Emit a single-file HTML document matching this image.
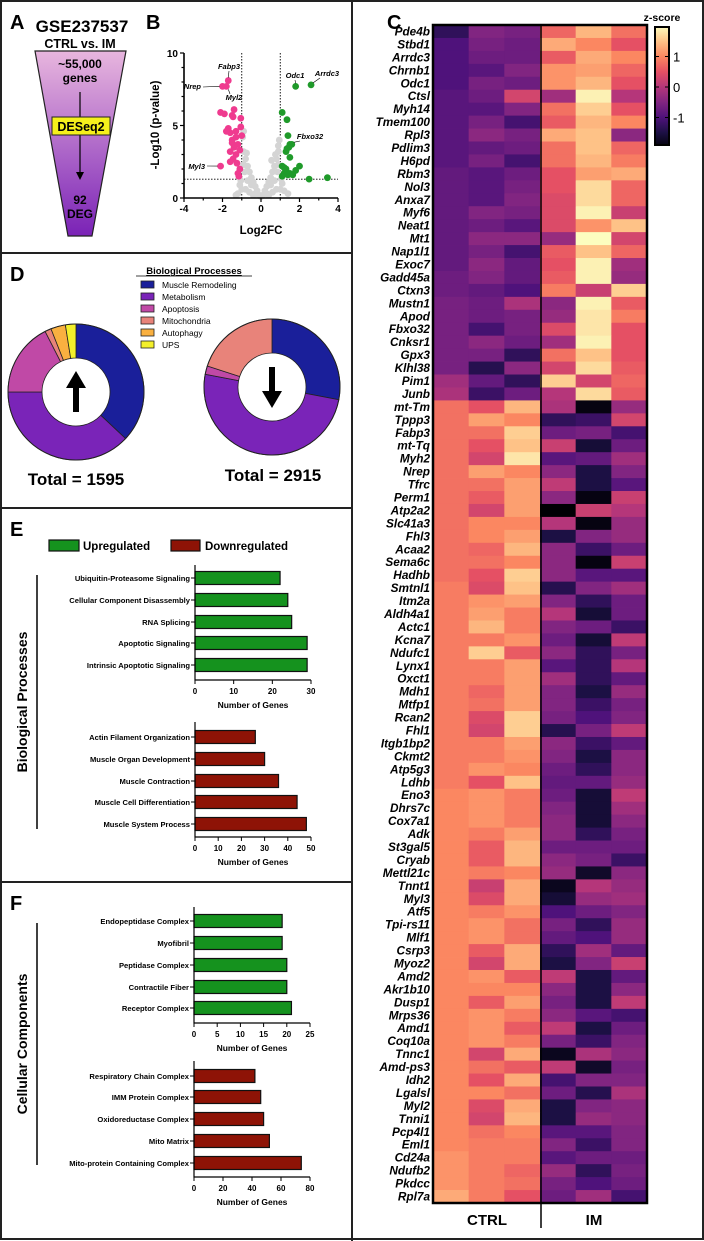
<!DOCTYPE html>
<html><head><meta charset="utf-8">
<style>
html,body{margin:0;padding:0;background:#fff;}
svg{display:block;font-family:"Liberation Sans",Arial,sans-serif;}
</style></head>
<body>
<svg id="fig" width="704" height="1241" viewBox="0 0 704 1241" xmlns="http://www.w3.org/2000/svg">
<defs>
<linearGradient id="funnelGrad" x1="0" y1="0" x2="0" y2="1">
<stop offset="0" stop-color="#e8b6de"/><stop offset="1" stop-color="#7a22b6"/>
</linearGradient>
</defs>
<rect x="0" y="0" width="704" height="1241" fill="#fff"/>
<g id="frame" stroke="#222" stroke-width="2" fill="none">
<rect x="1" y="1" width="702" height="1238"/>
<line x1="352" y1="0" x2="352" y2="1241"/>
<line x1="0" y1="253" x2="352" y2="253"/>
<line x1="0" y1="508" x2="352" y2="508"/>
<line x1="0" y1="882" x2="352" y2="882"/>
</g>
<g font-weight="bold" font-size="20" fill="#000">
<text x="10" y="29">A</text>
<text x="146" y="29">B</text>
<text x="387" y="29">C</text>
<text x="10" y="281">D</text>
<text x="10" y="536">E</text>
<text x="10" y="910">F</text>
</g>
<!-- Panel A -->
<g>
<text x="82" y="32" font-size="17" font-weight="bold" text-anchor="middle">GSE237537</text>
<text x="80" y="48" font-size="12.5" font-weight="bold" text-anchor="middle">CTRL vs. IM</text>
<polygon points="35,51 126,51 92,236 68,236" fill="url(#funnelGrad)" stroke="#222" stroke-width="1.2"/>
<text x="80" y="68" font-size="12" font-weight="bold" text-anchor="middle">~55,000</text>
<text x="80" y="82" font-size="12" font-weight="bold" text-anchor="middle">genes</text>
<line x1="80" y1="92" x2="80" y2="174" stroke="#000" stroke-width="1.2"/>
<polygon points="76,172 84,172 80,180" fill="#000"/>
<rect x="52" y="117" width="58" height="18" fill="#f5f01c" stroke="#222" stroke-width="1"/>
<text x="81" y="131" font-size="12.5" font-weight="bold" text-anchor="middle">DESeq2</text>
<text x="80" y="204" font-size="12" font-weight="bold" text-anchor="middle">92</text>
<text x="80" y="218" font-size="12" font-weight="bold" text-anchor="middle">DEG</text>
</g>
<g id="volcano"></g>
<g id="donuts"></g>
<g id="bars"></g>
<g id="heatmap"></g>
</svg>
<script>
// ---------- Volcano data ----------
const pinkX = [-1.7,-2.0,-1.8,-2.1,-1.9,-1.4,-1.5,-1.45,-1.05,-1.7,-1.6,-1.8,-1.05,-1.3,-1.5,-1.2,-1.4,-1.6,-1.3,-1.1,-1.45,-1.25,-1.1,-1.2,-1.6,-2.1,-1.15,-1.3,-1.0,-1.5];
const pinkY = [8.1,7.7,7.7,5.9,5.8,6.1,5.7,5.6,5.5,4.8,4.5,4.6,4.9,4.2,4.0,3.7,3.5,3.2,3.0,3.3,2.7,2.4,2.0,1.7,2.5,2.2,1.5,4.6,4.3,3.8];
const greenX = [1.8,2.6,1.1,1.35,1.4,1.5,1.6,1.35,1.45,1.3,1.5,1.1,1.2,1.3,2.0,1.8,1.5,1.2,1.4,2.5,3.45,1.1,1.65];
const greenY = [7.7,7.8,5.9,5.4,4.3,3.7,3.7,3.4,3.5,3.2,2.8,2.2,2.1,2.0,2.2,1.9,1.7,1.7,1.6,1.3,1.4,1.5,1.6];
const greyX = [0,0.1,-0.1,0.2,-0.2,0.3,-0.3,0.4,-0.4,0.5,-0.5,0.6,-0.6,0.7,-0.7,0.8,-0.8,0.9,-0.9,0.95,-0.95,-0.9,0.9,0.5,-0.5,0.3,-0.3,0.7,-0.7,0.85,-0.85,0.6,-0.6,1.0,-1.0,1.2,-1.2,0.4,-0.4,0.8,-0.8,-1.1,1.1,0.9,-0.9,0.75,-0.75,-1.3,1.4,0.55,-1.05,1.05];
const greyY = [0.1,0.2,0.2,0.5,0.5,0.8,0.8,1.1,1.1,1.4,1.4,1.8,1.8,2.2,2.2,2.7,2.7,3.2,3.2,4.0,4.2,4.6,3.6,0.9,0.9,0.3,0.3,1.2,1.2,1.8,1.8,0.4,0.4,0.6,0.6,0.5,0.3,0.2,0.2,0.6,0.6,0.9,1.0,2.3,2.3,3.0,3.1,0.2,0.3,2.6,1.2,1.3];
const volXTicks = [-4,-2,0,2,4];
const volYTicks = [0,5,10];

// ---------- Donut data ----------
const donutCats = ["Muscle Remodeling","Metabolism","Apoptosis","Mitochondria","Autophagy","UPS"];
const donutUp = [37,38,17.5,1.5,3.5,2.5];
const donutDown = [28,50,2,20,0,0];
const donutTotals = ["Total = 1595","Total = 2915"];

// ---------- Bar data ----------
const bpUpCats = ["Ubiquitin-Proteasome Signaling","Cellular Component Disassembly","RNA Splicing","Apoptotic Signaling","Intrinsic Apoptotic Signaling"];
const bpUpVals = [22,24,25,29,29];
const bpUpTicks = [0,10,20,30];
const bpDownCats = ["Actin Filament Organization","Muscle Organ Development","Muscle Contraction","Muscle Cell Differentiation","Muscle System Process"];
const bpDownVals = [26,30,36,44,48];
const bpDownTicks = [0,10,20,30,40,50];
const ccUpCats = ["Endopeptidase Complex","Myofibril","Peptidase Complex","Contractile Fiber","Receptor Complex"];
const ccUpVals = [19,19,20,20,21];
const ccUpTicks = [0,5,10,15,20,25];
const ccDownCats = ["Respiratory Chain Complex","IMM Protein Complex","Oxidoreductase Complex","Mito Matrix","Mito-protein Containing Complex"];
const ccDownVals = [42,46,48,52,74];
const ccDownTicks = [0,20,40,60,80];

// ---------- Heatmap data ----------
const genes = ["Pde4b","Stbd1","Arrdc3","Chrnb1","Odc1","Ctsl","Myh14","Tmem100","Rpl3","Pdlim3","H6pd","Rbm3","Nol3","Anxa7","Myf6","Neat1","Mt1","Nap1l1","Exoc7","Gadd45a","Ctxn3","Mustn1","Apod","Fbxo32","Cnksr1","Gpx3","Klhl38","Pim1","Junb","mt-Tm","Tppp3","Fabp3","mt-Tq","Myh2","Nrep","Tfrc","Perm1","Atp2a2","Slc41a3","Fhl3","Acaa2","Sema6c","Hadhb","Smtnl1","Itm2a","Aldh4a1","Actc1","Kcna7","Ndufc1","Lynx1","Oxct1","Mdh1","Mtfp1","Rcan2","Fhl1","Itgb1bp2","Ckmt2","Atp5g3","Ldhb","Eno3","Dhrs7c","Cox7a1","Adk","St3gal5","Cryab","Mettl21c","Tnnt1","Myl3","Atf5","Tpi-rs11","Mlf1","Csrp3","Myoz2","Amd2","Akr1b10","Dusp1","Mrps36","Amd1","Coq10a","Tnnc1","Amd-ps3","Idh2","Lgalsl","Myl2","Tnni1","Pcp4l1","Eml1","Cd24a","Ndufb2","Pkdcc","Rpl7a"];
const samples = ["CTRL1","CTRL2","CTRL3","IM1","IM2","IM3"];
const zscores = [
[-1.3,-0.5,-0.6,0.7,1.4,0.8],[-1.0,-0.6,-0.7,1.3,1.0,0.5],[-1.0,-0.7,-0.7,0.6,1.3,1.0],[-1.0,-0.9,-0.5,1.1,1.2,0.7],[-1.0,-0.6,-0.7,1.1,1.4,0.5],
[-0.9,-0.7,0.3,-0.2,1.9,0.0],[-0.9,-0.9,-0.5,0.8,1.6,0.5],[-0.9,-0.6,-1.1,0.6,1.4,1.0],[-0.9,-0.4,-0.6,1.3,1.5,-0.4],[-0.9,-0.8,-0.7,0.8,1.5,0.7],
[-0.9,-0.6,-1.1,0.8,1.4,0.9],[-0.8,-0.9,-0.7,0.5,1.2,1.3],[-0.8,-0.9,-0.6,0.5,1.7,0.7],[-0.8,-0.9,-0.5,0.4,1.7,0.7],[-0.8,-0.5,-0.6,0.4,1.9,0.2],
[-0.8,-0.7,-0.9,0.4,1.1,1.5],[-0.8,-0.4,-0.4,-0.3,2.0,0.3],[-0.8,-0.6,-1.1,0.6,1.5,0.7],[-0.8,-0.4,-0.8,0.5,1.9,-0.2],[-0.7,-0.5,-0.8,0.6,1.9,-0.3],
[-0.7,-0.8,-1.0,0.9,0.2,1.6],[-0.6,-0.7,-0.1,-0.4,1.9,0.6],[-0.6,-0.7,-0.6,-0.3,1.8,0.9],[-0.6,-1.1,-0.6,0.4,1.8,0.5],[-0.6,-0.4,-0.7,-0.2,1.9,0.5],
[-0.6,-0.6,-1.3,0.8,1.5,0.5],[-0.6,-1.4,-0.4,0.3,1.7,0.6],[-0.2,-0.8,-1.3,1.6,0.3,0.7],[-0.1,-1.2,-0.7,0.0,1.7,0.6],
[0.8,0.5,1.4,-0.1,-1.9,-0.3],[0.8,1.2,1.0,-1.3,-1.2,0.3],[0.8,0.8,1.6,-0.7,-0.6,-1.1],[0.8,0.5,1.5,0.2,-1.6,-0.7],[0.8,0.3,1.8,-0.9,-0.8,-0.2],
[0.8,1.2,1.0,-0.4,-1.5,-0.5],[0.8,0.8,1.2,0.1,-1.5,-0.9],[0.8,0.6,1.2,-0.4,-1.9,0.2],[0.8,0.3,1.2,-2.0,0.2,0.0],[0.8,1.0,1.0,0.0,-1.9,-0.3],
[0.8,1.0,1.2,-1.5,-0.5,-0.3],[0.8,0.7,1.4,-0.4,-1.2,-0.7],[0.8,0.8,1.0,-0.4,-1.9,0.2],[0.8,0.5,1.6,-0.4,-0.9,-0.9],[0.9,0.4,1.5,-1.4,-0.5,-0.2],
[0.9,1.1,1.2,-0.5,-1.3,-0.7],[0.9,1.2,0.9,0.0,-1.6,-0.7],[0.9,1.4,0.9,-0.5,-0.7,-1.2],[0.9,0.9,1.1,-0.7,-1.6,0.1],[0.9,1.6,0.6,-0.4,-1.3,-0.6],
[0.9,0.9,1.2,-0.9,-1.3,0.0],[0.9,0.9,1.2,-0.2,-1.3,-0.8],[0.9,0.7,1.2,-0.5,-1.5,-0.3],[0.9,0.8,1.2,-0.5,-1.2,-0.6],[0.9,0.4,1.6,-0.6,-1.0,-0.5],
[0.9,0.3,1.6,-1.4,-0.6,0.1],[0.9,0.9,1.2,-0.4,-1.2,-0.8],[0.9,0.9,1.1,-0.5,-1.5,-0.4],[0.9,1.1,1.0,-0.7,-1.3,-0.4],[0.9,0.5,1.5,-0.8,-0.8,-0.3],
[1.0,1.1,0.9,-0.7,-1.6,0.1],[1.0,1.1,0.9,-0.5,-1.6,-0.2],[1.0,1.1,0.9,-0.4,-1.6,-0.4],[1.0,0.9,1.2,-0.4,-1.3,-0.6],[1.0,0.6,1.4,-0.7,-0.7,-0.7],
[1.0,0.6,1.4,-0.4,-0.6,-1.2],[1.0,0.9,1.0,-0.3,-1.7,-0.4],[1.0,0.2,1.3,-1.8,0.0,-0.3],[1.0,0.4,1.3,-1.6,-0.3,-0.2],[1.0,0.9,1.1,-1.0,-0.7,-0.5],
[1.0,1.1,0.8,-0.6,-1.3,-0.3],[1.0,1.1,0.8,-0.8,-1.0,-0.3],[1.0,0.6,1.3,-1.3,-0.2,-0.8],[1.0,0.3,1.3,-1.5,-0.5,0.2],[1.0,1.1,0.6,0.1,-1.5,-0.8],
[1.0,1.0,1.0,-0.4,-1.5,-0.4],[1.0,0.6,1.2,-0.6,-1.5,0.1],[1.0,1.1,0.9,-0.4,-0.9,-1.1],[1.0,1.1,0.6,0.1,-1.5,-0.7],[1.0,1.1,0.9,-0.6,-1.2,-0.5],
[1.0,0.3,1.3,-1.8,-0.1,-0.4],[1.0,0.8,0.6,0.1,-1.7,-0.6],[1.0,0.5,1.3,-1.1,-0.5,-0.5],[1.0,1.0,0.8,-0.7,-1.4,-0.1],[1.0,0.4,1.3,-1.5,-0.5,-0.4],
[1.0,0.3,1.4,-1.5,-0.3,-0.4],[1.0,0.8,1.0,-0.9,-0.9,-0.5],[1.0,0.9,0.9,-0.5,-1.2,-0.5],[1.1,0.9,0.9,-0.9,-0.7,-0.7],[1.1,0.9,0.7,-0.3,-1.3,-0.6],
[1.1,0.9,0.8,-0.6,-1.0,-0.7],[1.3,0.9,0.5,-0.7,-0.2,-1.1]
];
const cbTicks = [1,0,-1];

const NS = "http://www.w3.org/2000/svg";
function mk(tag, attrs, parent, text){
  const e = document.createElementNS(NS, tag);
  for (const k in attrs) e.setAttribute(k, attrs[k]);
  if (text !== undefined) e.textContent = text;
  parent.appendChild(e);
  return e;
}

// ---------- Volcano ----------
(function(){
  const g = document.getElementById('volcano');
  const vx = v => 184 + (v + 4) * (154/8);
  const vy = v => 198 - v * 14.5;
  // dotted thresholds
  let l = mk('line',{x1:vx(-1),y1:vy(10),x2:vx(-1),y2:vy(0),stroke:'#000','stroke-width':0.9,'stroke-dasharray':'1.5,1.5'},g);
   
  l = mk('line',{x1:vx(1),y1:vy(10),x2:vx(1),y2:vy(0),stroke:'#000','stroke-width':0.9,'stroke-dasharray':'1.5,1.5'},g);
   
  l = mk('line',{x1:vx(-4),y1:vy(1.3),x2:vx(4),y2:vy(1.3),stroke:'#000','stroke-width':0.9,'stroke-dasharray':'1.5,1.5'},g);
   
  for (let i=0;i<greyX.length;i++){
    const c = mk('circle',{cx:vx(greyX[i]),cy:vy(greyY[i]),r:3.4,fill:'#d4d4d4'},g);
     
  }
  for (let i=0;i<pinkX.length;i++){
    const c = mk('circle',{cx:vx(pinkX[i]),cy:vy(pinkY[i]),r:3.4,fill:'#ef3b8f'},g);
     
  }
  for (let i=0;i<greenX.length;i++){
    const c = mk('circle',{cx:vx(greenX[i]),cy:vy(greenY[i]),r:3.4,fill:'#1f9a2a'},g);
     
  }
  // axes
  const ax = mk('path',{d:`M${vx(-4)},${vy(10)} V${vy(0)} H${vx(4)}`,fill:'none',stroke:'#000','stroke-width':1.6},g);
   
  for (let v=-4; v<=4; v++) mk('line',{x1:vx(v),y1:vy(0),x2:vx(v),y2:vy(0)+(v%2===0?4:2.5),stroke:'#000','stroke-width':1.2},g);
  for (let v=0; v<=10; v+=1) mk('line',{x1:vx(-4),y1:vy(v),x2:vx(-4)-(v%5===0?4:2.5),y2:vy(v),stroke:'#000','stroke-width':1.2},g);
  volXTicks.forEach(t=>{
    const e = mk('text',{x:vx(t),y:212,'font-size':10,'font-weight':'bold','text-anchor':'middle'},g,String(t));
     
  });
  volYTicks.forEach(t=>{
    const e = mk('text',{x:vx(-4)-6,y:vy(t)+4,'font-size':10,'font-weight':'bold','text-anchor':'end'},g,String(t));
     
  });
  let e = mk('text',{x:261,y:234,'font-size':11.5,'font-weight':'bold','text-anchor':'middle'},g,'Log2FC');
   
  e = mk('text',{x:0,y:0,'font-size':11.5,'font-weight':'bold','text-anchor':'middle',transform:'translate(159,125) rotate(-90)'},g,'-Log10 (p-value)');
   
  const labs = [["Fabp3",229,69,'middle',vx(-1.7),vy(8.1)-3,229,71],["Nrep",201,89,'end',vx(-2.0)-3,vy(7.7),203,87],["Myl2",234,100,'middle',vx(-1.8)+2,vy(7.7)+3,230,94],["Myl3",205,169,'end',vx(-2.1)-3,vy(2.2),207,166],["Odc1",295,78,'middle',vx(1.8),vy(7.7)-3,295,80],["Arrdc3",327,76,'middle',vx(2.6)+2,vy(7.8)-2,320,78],["Fbxo32",310,139,'middle',vx(1.6)+2,vy(3.7)-2,300,141]];
  labs.forEach(L=>{
    mk('line',{x1:L[4],y1:L[5],x2:L[6],y2:L[7],stroke:'#000','stroke-width':0.6},g);
    const t = mk('text',{x:L[1],y:L[2],'font-size':7.5,'font-weight':'bold','font-style':'italic','text-anchor':L[3]},g,L[0]);
     
  });
})();

// ---------- Donuts ----------
(function(){
  const g = document.getElementById('donuts');
  const cols = ["#1a1f9a","#7a24b8","#c049a6","#e8837a","#f9b040","#f3ef2b"];
  function donut(cx, cy, vals, name){
    const tot = vals.reduce((a,b)=>a+b,0);
    let a0 = 0;
    const R=68, r=34;
    vals.forEach((v,i)=>{
      if (v<=0) return;
      const a1 = a0 + v/tot*2*Math.PI;
      const p = (a,rad)=>[cx+rad*Math.sin(a), cy-rad*Math.cos(a)];
      const [x0,y0]=p(a0,R),[x1,y1]=p(a1,R),[x2,y2]=p(a1,r),[x3,y3]=p(a0,r);
      const lg = (a1-a0)>Math.PI?1:0;
      const s = mk('path',{d:`M${x0},${y0} A${R},${R} 0 ${lg} 1 ${x1},${y1} L${x2},${y2} A${r},${r} 0 ${lg} 0 ${x3},${y3} Z`,fill:cols[i],stroke:'#222','stroke-width':0.8},g);
      
      
      a0 = a1;
    });
    const o = mk('circle',{cx:cx,cy:cy,r:R,fill:'none',stroke:'#222','stroke-width':1},g);
     
  }
  donut(76,392,donutUp,'donut-up');
  donut(272,387,donutDown,'donut-down');
  let a = mk('path',{d:'M76,371 L86,388 L79,388 L79,412 L73,412 L73,388 L66,388 Z',fill:'#000'},g);
   
  a = mk('path',{d:'M272,408 L282,391 L275,391 L275,367 L269,367 L269,391 L262,391 Z',fill:'#000'},g);
   
  let t = mk('text',{x:76,y:485,'font-size':17,'font-weight':'bold','text-anchor':'middle'},g,donutTotals[0]);
   
  t = mk('text',{x:273,y:481,'font-size':17,'font-weight':'bold','text-anchor':'middle'},g,donutTotals[1]);
   
  t = mk('text',{x:194,y:274,'font-size':9.5,'font-weight':'bold','text-anchor':'middle','text-decoration':'underline'},g,'Biological Processes');
   
  mk('line',{x1:136,y1:276,x2:252,y2:276,stroke:'#000','stroke-width':0.8},g);
  donutCats.forEach((c,i)=>{
    const y = 281 + i*12;
    const r = mk('rect',{x:141,y:y,width:13,height:7,fill:cols[i],stroke:'#222','stroke-width':0.8},g);
     
    const tt = mk('text',{x:162,y:y+7,'font-size':8.5},g,c);
     
  });
})();

// ---------- Bars ----------
(function(){
  const g = document.getElementById('bars');
  function chart(cats, vals, ticks, color, x0, pxMax, rowY, axTop, axBot, name){
    const max = ticks[ticks.length-1];
    const sx = v => x0 + v/max*pxMax;
    cats.forEach((c,i)=>{
      const b = mk('rect',{x:x0,y:rowY[i]-6.5,width:sx(vals[i])-x0,height:13,fill:color,stroke:'#111','stroke-width':1.2},g);
       
      mk('line',{x1:x0-4,y1:rowY[i],x2:x0,y2:rowY[i],stroke:'#000','stroke-width':1},g);
      const t = mk('text',{x:x0-5,y:rowY[i]+3,'font-size':7.6,'font-weight':'bold','text-anchor':'end'},g,c);
       
    });
    mk('path',{d:`M${x0},${axTop} V${axBot} H${sx(max)}`,fill:'none',stroke:'#000','stroke-width':1.2},g);
    ticks.forEach(v=>{
      mk('line',{x1:sx(v),y1:axBot,x2:sx(v),y2:axBot+4,stroke:'#000','stroke-width':1},g);
      const t = mk('text',{x:sx(v),y:axBot+14,'font-size':8,'font-weight':'bold','text-anchor':'middle'},g,String(v));
       
    });
    const tt = mk('text',{x:x0+pxMax/2,y:axBot+28,'font-size':8.5,'font-weight':'bold','text-anchor':'middle'},g,'Number of Genes');
     
  }
  const G='#15921e', R='#8e1306';
  chart(bpUpCats,bpUpVals,bpUpTicks,G,195,116,[578,600,622,643,665],565,680,'bp-up');
  chart(bpDownCats,bpDownVals,bpDownTicks,R,195,116,[737,759,781,802,824],722,837,'bp-down');
  chart(ccUpCats,ccUpVals,ccUpTicks,G,194,116,[921,943,965,987,1008],907,1023,'cc-up');
  chart(ccDownCats,ccDownVals,ccDownTicks,R,194,116,[1076,1097,1119,1141,1163],1061,1177,'cc-down');
  // legend
  let r = mk('rect',{x:49,y:540,width:30,height:11,fill:G,stroke:'#111','stroke-width':1.2},g);
   
  let t = mk('text',{x:83,y:550,'font-size':11.5,'font-weight':'bold'},g,'Upregulated');
   
  r = mk('rect',{x:171,y:540,width:29,height:11,fill:R,stroke:'#111','stroke-width':1.2},g);
   
  t = mk('text',{x:205,y:550,'font-size':11.5,'font-weight':'bold'},g,'Downregulated');
   
  mk('line',{x1:37,y1:575,x2:37,y2:829,stroke:'#000','stroke-width':1.5},g);
  mk('line',{x1:37,y1:923,x2:37,y2:1165,stroke:'#000','stroke-width':1.5},g);
  t = mk('text',{x:0,y:0,'font-size':14,'font-weight':'bold','text-anchor':'middle',transform:'translate(27,702) rotate(-90)'},g,'Biological Processes');
   
  t = mk('text',{x:0,y:0,'font-size':14,'font-weight':'bold','text-anchor':'middle',transform:'translate(27,1044) rotate(-90)'},g,'Cellular Components');
   
})();

// ---------- Heatmap ----------
(function(){
  const g = document.getElementById('heatmap');
  const stops = ["#000004","#1c1044","#4f127b","#812581","#b5367a","#e55064","#fb8761","#fec287","#fcfdbf"];
  function hex(h){return [parseInt(h.slice(1,3),16),parseInt(h.slice(3,5),16),parseInt(h.slice(5,7),16)];}
  function cmap(z){
    let t = (z+2)/4; t = Math.max(0,Math.min(1,t));
    const p = t*(stops.length-1); const i = Math.min(stops.length-2, Math.floor(p)); const f = p-i;
    const a = hex(stops[i]), b = hex(stops[i+1]);
    return `rgb(${Math.round(a[0]+(b[0]-a[0])*f)},${Math.round(a[1]+(b[1]-a[1])*f)},${Math.round(a[2]+(b[2]-a[2])*f)})`;
  }
  const X0=433, X1=647, Y0=25, Y1=1203;
  const cw = (X1-X0)/samples.length, rh = (Y1-Y0)/genes.length;
  genes.forEach((gn,i)=>{
    samples.forEach((s,j)=>{
      const c = mk('rect',{x:X0+j*cw,y:Y0+i*rh,width:cw+0.4,height:rh+0.4,fill:cmap(zscores[i][j])},g);
       
    });
    const t = mk('text',{x:430,y:Y0+i*rh+rh/2+4,'font-size':11.8,'font-weight':'bold','font-style':'italic','text-anchor':'end'},g,gn);
     
  });
  mk('rect',{x:X0,y:Y0,width:X1-X0,height:Y1-Y0,fill:'none',stroke:'#000','stroke-width':2.5},g);
  mk('line',{x1:541,y1:Y0,x2:541,y2:1228,stroke:'#000','stroke-width':1.5},g);
  let t = mk('text',{x:487,y:1225,'font-size':15,'font-weight':'bold','text-anchor':'middle'},g,'CTRL');
   
  t = mk('text',{x:594,y:1225,'font-size':15,'font-weight':'bold','text-anchor':'middle'},g,'IM');
   
  // colorbar
  const cy = z => 87 - z*30.5;
  for (let y=27; y<145; y++){
    mk('rect',{x:655,y:y,width:14,height:1.2,fill:cmap((87-y-0.5)/30.5)},g);
  }
  const cb = mk('rect',{x:655,y:27,width:14,height:118,fill:'none',stroke:'#000','stroke-width':2},g);
   
  cbTicks.forEach(v=>{
    mk('line',{x1:655,y1:cy(v),x2:659,y2:cy(v),stroke:'#000','stroke-width':1},g);
    mk('line',{x1:665,y1:cy(v),x2:669,y2:cy(v),stroke:'#000','stroke-width':1},g);
    const tt = mk('text',{x:673,y:cy(v)+5,'font-size':13},g,String(v));
     
  });
  t = mk('text',{x:662,y:21,'font-size':10.5,'font-weight':'bold','text-anchor':'middle'},g,'z-score');
   
})();
</script>
</body></html>
